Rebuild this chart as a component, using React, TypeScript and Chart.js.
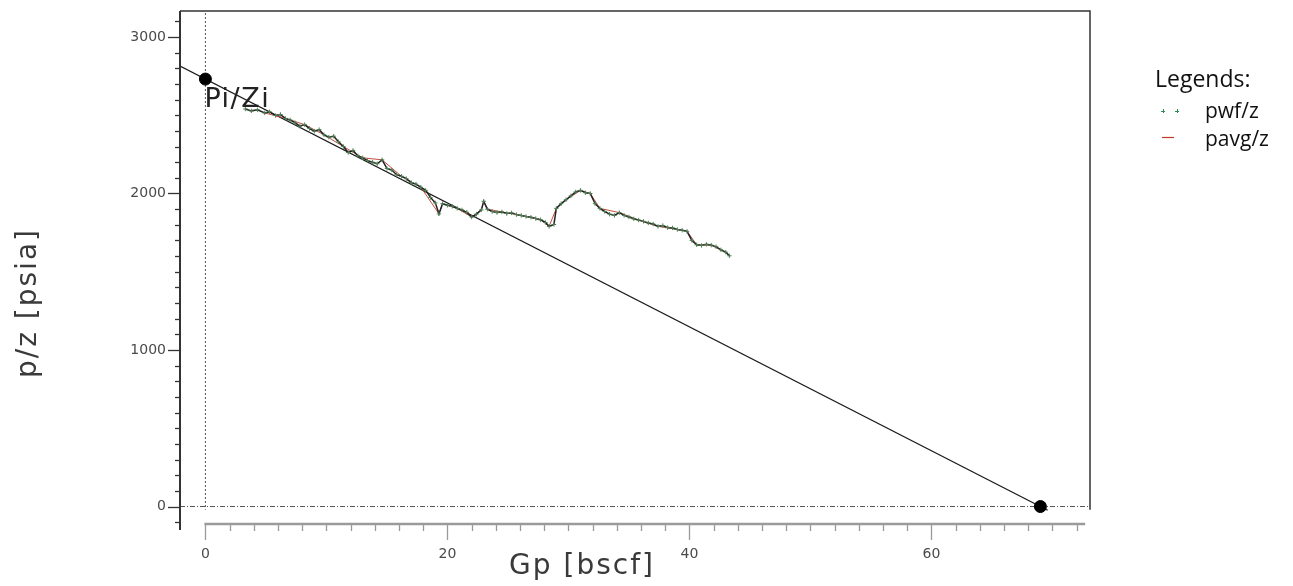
import React, { useEffect, useRef } from "react";
import { Chart, registerables } from "chart.js";

Chart.register(...registerables);

// Flowing-pressure material balance points: cumulative gas (bscf) vs p/z (psia)
const gpWell = [
  3.3, 3.8, 4.3, 4.9, 5.3, 5.8, 6.2, 6.6, 7.0, 7.4, 7.8, 8.2, 8.6, 9.0, 9.4, 9.8,
  10.2, 10.6, 11.0, 11.4, 11.8, 12.2, 12.6, 13.0, 13.4, 13.8, 14.2, 14.6, 15.0,
  15.4, 15.8, 16.2, 16.6, 17.0, 17.4, 17.8, 18.2, 18.6, 19.0, 19.3, 19.6, 20.0,
  20.4, 20.8, 21.2, 21.6, 22.0, 22.4, 22.8, 23.0, 23.3, 23.7, 24.1, 24.5, 24.9,
  25.3, 25.7, 26.1, 26.5, 26.9, 27.3, 27.7, 28.1, 28.4, 28.8, 29.0, 29.4, 29.8,
  30.2, 30.6, 31.0, 31.4, 31.8, 32.2, 32.6, 33.0, 33.4, 33.8, 34.2, 34.6, 35.0,
  35.4, 35.8, 36.2, 36.6, 37.0, 37.4, 37.8, 38.2, 38.6, 39.0, 39.4, 39.8, 40.2,
  40.6, 41.0, 41.4, 41.8, 42.2, 42.6, 43.0, 43.3,
];
const pzWell = [
  2540, 2528, 2535, 2515, 2522, 2498, 2505, 2480, 2470, 2452, 2430, 2440, 2415, 2398, 2408, 2375,
  2360, 2366, 2330, 2300, 2262, 2275, 2240, 2228, 2210, 2200, 2190, 2215, 2160,
  2150, 2120, 2110, 2095, 2070, 2060, 2040, 2020, 1975, 1940, 1870, 1935, 1925,
  1918, 1905, 1895, 1880, 1850, 1868, 1895, 1950, 1900, 1885, 1878, 1882, 1872,
  1876, 1865, 1860, 1853, 1848, 1840, 1832, 1815, 1790, 1802, 1905, 1935, 1960,
  1985, 2010, 2020, 2005, 2000, 1935, 1905, 1885, 1868, 1860, 1878, 1860, 1850,
  1838, 1830, 1822, 1812, 1805, 1790, 1795, 1782, 1780, 1770, 1765, 1758, 1700,
  1672, 1668, 1675, 1670, 1660, 1640, 1625, 1602,
];

// Average reservoir pressure p/z
const gpAvg = [
  4.9, 6.6, 8.2, 9.8, 11.4, 13.0, 14.6, 16.2, 17.8, 19.3, 19.6, 20.8, 22.0, 22.8,
  23.0, 23.3, 24.5, 26.1, 27.7, 28.4, 29.0, 29.8, 31.0, 31.8, 32.6, 34.2, 35.8,
  37.4, 39.0, 39.8, 40.6, 41.8, 43.0,
];
const pzAvg = [
  2515, 2480, 2440, 2375, 2300, 2228, 2215, 2110, 2040, 1870, 1935, 1905, 1850, 1895,
  1950, 1900, 1882, 1860, 1832, 1790, 1905, 1960, 2020, 2000, 1905, 1878, 1830,
  1790, 1770, 1758, 1672, 1670, 1625,
];

// Straight-line extrapolation through Pi/Zi to zero p/z
const trendGp = [-2.1, 69.6];
const trendPz = [2814, -24];

// Anchor points: initial p/z and the recoverable-gas intercept
const anchorGp = [0, 69.0];
const anchorPz = [2731, 0];

const yTickValues = [0, 1000, 2000, 3000];
const xTickValues = [0, 20, 40, 60];
const yMinorStep = 100;
const xMinorStep = 2;

const FONT = "'DejaVu Sans', Verdana, sans-serif";
const LEGEND_FONT = "'Open Sans', 'Noto Sans', sans-serif";

const toPoints = (xs: number[], ys: number[]) => xs.map((x, i) => ({ x, y: ys[i] }));

const decorPlugin = {
  id: "decor",
  beforeDatasetsDraw(chart: any) {
    const { ctx, chartArea: a, scales } = chart;
    const x = scales.x;
    const y = scales.y;
    ctx.save();
    ctx.strokeStyle = "#555";
    ctx.lineWidth = 1;
    // vertical dotted line at Gp = 0
    ctx.setLineDash([2, 2]);
    const x0 = x.getPixelForValue(0);
    ctx.beginPath();
    ctx.moveTo(x0, a.top + 2);
    ctx.lineTo(x0, y.getPixelForValue(-20));
    ctx.stroke();
    // horizontal dash-dot line at p/z = 0
    ctx.setLineDash([5, 2, 1, 2]);
    const y0 = y.getPixelForValue(0);
    ctx.beginPath();
    ctx.moveTo(a.left, y0);
    ctx.lineTo(a.right, y0);
    ctx.stroke();
    ctx.restore();
  },
  afterDraw(chart: any) {
    const { ctx, chartArea: a, scales } = chart;
    const x = scales.x;
    const y = scales.y;
    ctx.save();

    // frame: top and right edges
    ctx.strokeStyle = "#333";
    ctx.lineWidth = 1.5;
    ctx.beginPath();
    ctx.moveTo(a.left, a.top);
    ctx.lineTo(a.right, a.top);
    ctx.lineTo(a.right, y.getPixelForValue(-20));
    ctx.stroke();

    // left axis with major and minor ticks
    ctx.lineWidth = 2;
    ctx.beginPath();
    ctx.moveTo(a.left, a.top);
    ctx.lineTo(a.left, a.bottom);
    ctx.stroke();
    ctx.lineWidth = 1.3;
    for (let v = -100; v <= 3100; v += yMinorStep) {
      const py = Math.round(y.getPixelForValue(v)) + 0.5;
      const len = v % 1000 === 0 ? 12 : 5;
      ctx.beginPath();
      ctx.moveTo(a.left - len, py);
      ctx.lineTo(a.left, py);
      ctx.stroke();
    }

    // bottom axis, drawn from Gp = 0
    const axisY = a.bottom - 6;
    ctx.strokeStyle = "#9a9a9a";
    ctx.lineWidth = 2.5;
    ctx.beginPath();
    ctx.moveTo(x.getPixelForValue(0) - 1, axisY);
    ctx.lineTo(x.getPixelForValue(72.7), axisY);
    ctx.stroke();
    ctx.lineWidth = 1.3;
    for (let v = 0; v <= 72; v += xMinorStep) {
      const px = Math.round(x.getPixelForValue(v)) + 0.5;
      const len = v % 20 === 0 ? 16 : 7;
      ctx.beginPath();
      ctx.moveTo(px, axisY);
      ctx.lineTo(px, axisY + len);
      ctx.stroke();
    }

    // axis titles
    ctx.fillStyle = "#3a3a3a";
    ctx.font = `28px ${FONT}`;
    (ctx as any).letterSpacing = "2px";
    ctx.textAlign = "center";
    ctx.textBaseline = "alphabetic";
    ctx.fillText("Gp [bscf]", 582, 574);
    ctx.save();
    ctx.translate(36, 303);
    ctx.rotate(-Math.PI / 2);
    ctx.fillText("p/z [psia]", 0, 0);
    ctx.restore();

    // Pi/Zi annotation next to the initial point
    ctx.fillStyle = "#222";
    ctx.font = `27px ${FONT}`;
    (ctx as any).letterSpacing = "1.5px";
    ctx.textAlign = "left";
    ctx.fillText("Pi/Zi", x.getPixelForValue(anchorGp[0]) - 1, y.getPixelForValue(anchorPz[0]) + 28);
    (ctx as any).letterSpacing = "0px";

    // legend block
    ctx.fillStyle = "#111";
    ctx.font = `23px ${LEGEND_FONT}`;
    ctx.fillText("Legends:", 1155, 87);
    ctx.font = `21px ${LEGEND_FONT}`;
    ctx.fillText("pwf/z", 1205, 118);
    ctx.fillText("pavg/z", 1205, 146);
    ctx.strokeStyle = "#2e8b57";
    ctx.lineWidth = 1;
    for (const cx of [1163, 1177]) {
      ctx.beginPath();
      ctx.moveTo(cx - 2, 111.5);
      ctx.lineTo(cx + 2, 111.5);
      ctx.moveTo(cx + 0.5, 109);
      ctx.lineTo(cx + 0.5, 113);
      ctx.stroke();
    }
    ctx.strokeStyle = "#c0392b";
    ctx.lineWidth = 1.2;
    ctx.beginPath();
    ctx.moveTo(1162, 137.5);
    ctx.lineTo(1174, 137.5);
    ctx.stroke();

    ctx.restore();
  },
};

const noScalePadding = (s: any) => {
  s.paddingTop = 0;
  s.paddingBottom = 0;
  s.paddingLeft = 0;
  s.paddingRight = 0;
};

export default function App() {
  const canvasRef = useRef<HTMLCanvasElement | null>(null);

  useEffect(() => {
    const canvas = canvasRef.current;
    if (!canvas) return;
    const chart = new Chart(canvas, {
      type: "line",
      data: {
        datasets: [
          {
            label: "anchors",
            data: toPoints(anchorGp, anchorPz),
            showLine: false,
            pointRadius: 6,
            pointBackgroundColor: "#000",
            pointBorderColor: "#000",
          },
          {
            label: "pwf/z",
            data: toPoints(gpWell, pzWell),
            borderColor: "#222",
            borderWidth: 1.5,
            pointStyle: "cross",
            pointRadius: 2.2,
            pointBorderColor: "#4f7f55",
            pointBorderWidth: 1,
            tension: 0,
          },
          {
            label: "pavg/z",
            data: toPoints(gpAvg, pzAvg),
            borderColor: "#c0392b",
            borderWidth: 0.9,
            pointRadius: 0,
            tension: 0,
          },
          {
            label: "trend",
            data: toPoints(trendGp, trendPz),
            borderColor: "#1a1a1a",
            borderWidth: 1.3,
            pointRadius: 0,
          },
        ],
      },
      options: {
        responsive: false,
        animation: false,
        events: [],
        layout: { padding: { top: 11, right: 203, left: 0, bottom: 0 } },
        plugins: { legend: { display: false }, tooltip: { enabled: false } },
        scales: {
          x: {
            type: "linear",
            min: -2.1,
            max: 73.1,
            grid: { display: false },
            border: { display: false },
            afterBuildTicks: (s: any) => {
              s.ticks = xTickValues.map((v) => ({ value: v }));
            },
            afterFit: (s: any) => {
              s.height = 56;
              noScalePadding(s);
            },
            ticks: {
              padding: 8,
              color: "#4a4a4a",
              font: { family: FONT, size: 14 },
              callback: (v: any) => String(v),
            },
          },
          y: {
            type: "linear",
            min: -150,
            max: 3166,
            grid: { display: false },
            border: { display: false },
            afterBuildTicks: (s: any) => {
              s.ticks = yTickValues.map((v) => ({ value: v }));
            },
            afterFit: (s: any) => {
              s.width = 180;
              noScalePadding(s);
            },
            ticks: {
              padding: 6,
              color: "#4a4a4a",
              font: { family: FONT, size: 14 },
              callback: (v: any) => String(v),
            },
          },
        },
      },
      plugins: [decorPlugin],
    });
    return () => chart.destroy();
  }, []);

  return (
    <div style={{ position: "fixed", left: 0, top: 0, width: 1293, height: 586, background: "#fff" }}>
      <canvas ref={canvasRef} width={1293} height={586} />
    </div>
  );
}
